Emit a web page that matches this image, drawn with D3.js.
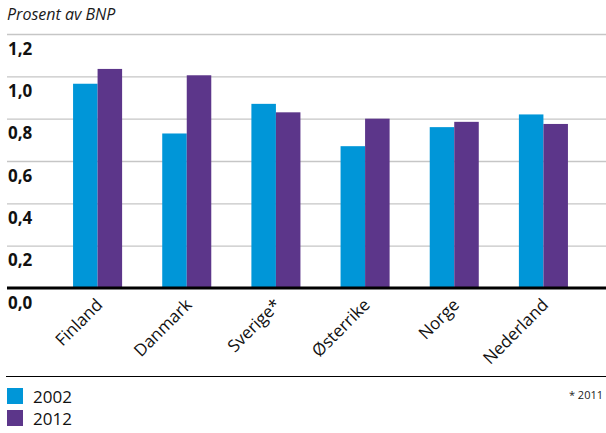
<!DOCTYPE html>
<html>
<head>
<meta charset="utf-8">
<script src="https://cdn.jsdelivr.net/npm/d3@7/dist/d3.min.js"></script>
<style>
  html, body { margin: 0; padding: 0; background: #fff; }
  svg { display: block; font-family: "Open Sans", "Noto Sans", sans-serif; }
</style>
</head>
<body>
<svg id="chart" width="606" height="433"></svg>
<script>
// Offentlige utgifter, prosent av BNP
const countries = ["Finland", "Danmark", "Sverige*", "Østerrike", "Norge", "Nederland"];
const seriesNames = ["2002", "2012"];
const values2002 = [0.965, 0.73, 0.87, 0.67, 0.76, 0.82];
const values2012 = [1.035, 1.005, 0.83, 0.80, 0.785, 0.775];
const yTicks = [0, 0.2, 0.4, 0.6, 0.8, 1.0, 1.2];
const colors = ["#0096d8", "#5c368a"];

const rows = countries.map((c, i) => ({ country: c, vals: [values2002[i], values2012[i]] }));

const svg = d3.select("#chart");
const fmt = d => d3.format(".1f")(d).replace(".", ",");

const y = d3.scaleLinear().domain([0, 1.2]).range([288, 34]);
const x = d3.scaleBand().domain(countries).range([53, 588])
  .paddingInner(0.45).paddingOuter(0.225);
const xs = d3.scaleBand().domain(seriesNames).range([0, x.bandwidth()]);

// Title
svg.append("text")
  .attr("x", 7).attr("y", 20)
  .attr("font-size", 16).attr("font-style", "italic")
  .attr("fill", "#1a1a1a")
  .text("Prosent av BNP");

// Gridlines with value labels sitting below each line
const yAxis = d3.axisRight(y).tickValues(yTicks).tickFormat(fmt)
  .tickSize(599).tickPadding(0);
const ga = svg.append("g").attr("transform", "translate(7,0)").call(yAxis);
ga.select(".domain").remove();
ga.selectAll(".tick line")
  .attr("stroke", d => d === 0 ? "none" : "#c6c6c6")
  .attr("stroke-width", 1.4);
ga.selectAll(".tick text")
  .attr("x", 1).attr("dy", 0)
  .attr("y", 20)
  .attr("text-anchor", "start")
  .attr("font-size", 17).attr("font-weight", "bold")
  .attr("font-family", "'Open Sans', sans-serif")
  .attr("fill", "#111");

// Bars
const groups = svg.append("g").selectAll("g").data(rows).join("g")
  .attr("transform", d => `translate(${x(d.country)},0)`);
groups.selectAll("rect")
  .data(d => d.vals.map((v, k) => ({ key: seriesNames[k], v, k })))
  .join("rect")
  .attr("x", d => xs(d.key))
  .attr("width", xs.bandwidth())
  .attr("y", d => y(d.v))
  .attr("height", d => y(0) - y(d.v))
  .attr("fill", d => colors[d.k]);

// Baseline
svg.append("line")
  .attr("x1", 7).attr("x2", 606)
  .attr("y1", y(0)).attr("y2", y(0))
  .attr("stroke", "#000").attr("stroke-width", 3);

// Category labels, rotated
const xAxis = d3.axisBottom(x).tickSize(0).tickPadding(0);
const gx = svg.append("g").attr("transform", `translate(0,${y(0)})`).call(xAxis);
gx.select(".domain").remove();
gx.selectAll(".tick text")
  .attr("font-size", 17)
  .attr("font-family", "'Open Sans', sans-serif")
  .attr("fill", "#111")
  .attr("text-anchor", "end")
  .attr("dy", 0).attr("y", 0)
  .attr("transform", "translate(6,18) rotate(-45)");

// Separator
svg.append("line")
  .attr("x1", 6).attr("x2", 606)
  .attr("y1", 376.5).attr("y2", 376.5)
  .attr("stroke", "#000").attr("stroke-width", 1.2);

// Legend
const lg = svg.append("g").selectAll("g").data(seriesNames).join("g")
  .attr("transform", (d, i) => `translate(7,${388 + i * 22})`);
lg.append("rect").attr("width", 16).attr("height", 16)
  .attr("fill", (d, i) => colors[i]);
lg.append("text").attr("x", 26).attr("y", 15)
  .attr("font-size", 17).attr("fill", "#111")
  .text(d => d);

// Footnote
svg.append("text")
  .attr("x", 603).attr("y", 399)
  .attr("text-anchor", "end")
  .attr("font-size", 11).attr("fill", "#222")
  .text("* 2011");
</script>
</body>
</html>
